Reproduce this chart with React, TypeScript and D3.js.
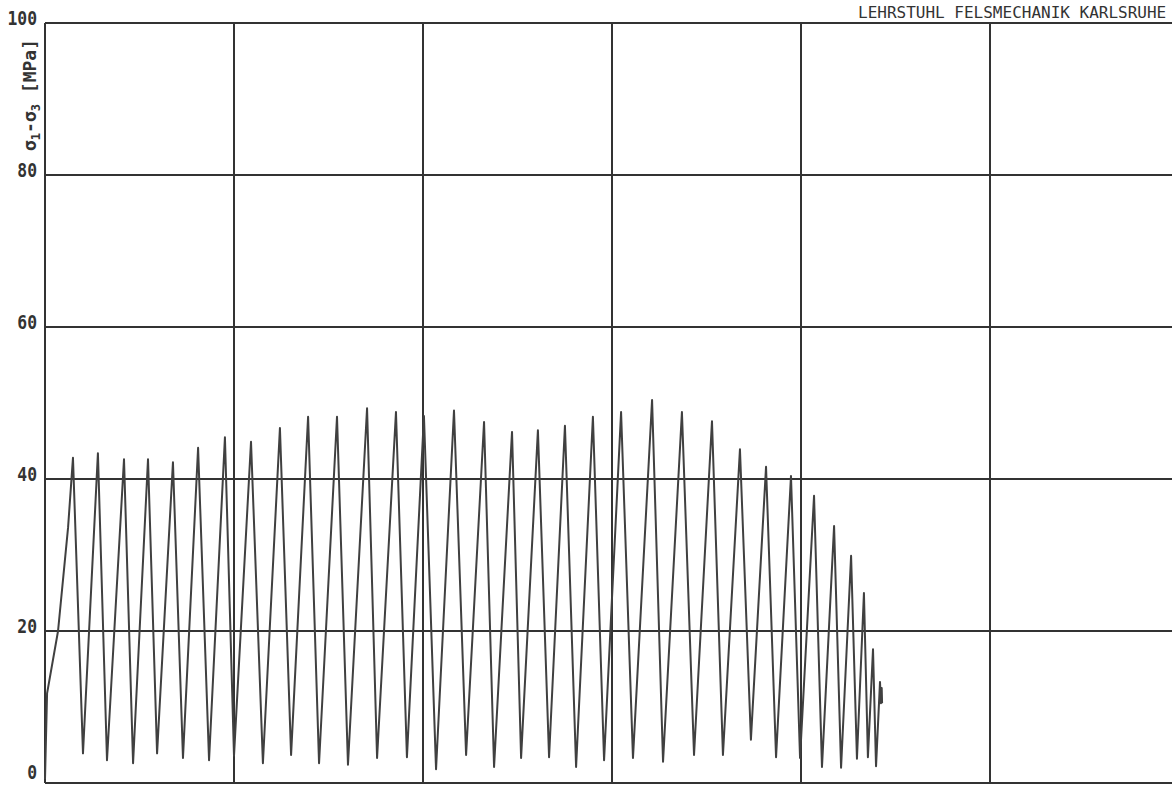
import React from 'react';
import * as d3 from 'd3';

// time axis (grid units, 10 per division) and deviatoric stress σ1-σ3 [MPa]
const timeValues = [
  0.0, 0.11, 0.69, 1.22, 1.48, 2.01, 2.8, 3.28, 4.18, 4.66, 5.45, 5.93, 6.77, 7.3,
  8.1, 8.68, 9.52, 10.0, 10.9, 11.53, 12.43, 13.02, 13.92, 14.5, 15.45, 16.03,
  17.04, 17.57, 18.57, 19.15, 20.05, 20.69, 21.64, 22.28, 23.23, 23.76, 24.71,
  25.19, 26.08, 26.67, 27.51, 28.1, 28.99, 29.58, 30.48, 31.11, 32.12, 32.7,
  33.7, 34.34, 35.29, 35.87, 36.77, 37.35, 38.15, 38.68, 39.47, 39.95, 40.69,
  41.11, 41.75, 42.12, 42.65, 42.96, 43.33, 43.54, 43.81, 43.97, 44.18, 44.23,
  44.27, 44.29,
];
const stressValues = [
  0.5, 11.8, 20.0, 33.6, 42.8, 3.9, 43.4, 3.0, 42.6, 2.6, 42.6, 3.9, 42.2, 3.3,
  44.1, 3.0, 45.5, 3.6, 44.9, 2.6, 46.7, 3.7, 48.2, 2.6, 48.2, 2.4,
  49.3, 3.3, 48.8, 3.4, 48.3, 1.8, 49.0, 3.7, 47.5, 2.1, 46.2,
  3.3, 46.4, 3.4, 47.0, 2.1, 48.2, 3.0, 48.8, 3.3, 50.4, 2.8,
  48.8, 3.7, 47.6, 3.7, 43.9, 5.7, 41.6, 3.4, 40.4, 3.3, 37.8,
  2.1, 33.8, 2.0, 29.9, 3.2, 25.0, 3.4, 17.6, 2.2, 13.3, 10.5,
  12.5, 10.5,
];
const yTicks = [0, 20, 40, 60, 80, 100];
const xGrid = [10, 20, 30, 40, 50];
const title = 'LEHRSTUHL FELSMECHANIK KARLSRUHE';

const W = 1172;
const H = 785;
const ink = '#333';
const plotFont = '"DejaVu Sans Mono", "Liberation Mono", monospace';

export default function App() {
  const x = d3.scaleLinear().domain([0, 60]).range([45, 1179]);
  const y = d3.scaleLinear().domain([0, 100]).range([783, 23]);

  const pts: [number, number][] = timeValues.map((t, i) => [t, stressValues[i]]);
  const line = d3.line<[number, number]>()
    .x(d => x(d[0]))
    .y(d => y(d[1]));

  return (
    <svg
      width={W}
      height={H}
      style={{ position: 'absolute', left: 0, top: 0, background: '#fff' }}
    >
      {/* grid */}
      <g stroke={ink} strokeWidth={2} fill="none">
        {yTicks.map(v => (
          <line key={'h' + v} x1={x(0)} x2={W} y1={y(v)} y2={y(v)} />
        ))}
        <line x1={x(0)} x2={x(0)} y1={y(0)} y2={y(100)} />
        {xGrid.map(v => (
          <line key={'v' + v} x1={x(v)} x2={x(v)} y1={y(0)} y2={y(100)} />
        ))}
      </g>

      {/* tick labels, narrow plotter digits */}
      <g fontFamily={plotFont} fontSize={20} fontWeight="bold" fill={ink} textAnchor="end">
        {yTicks.map(v => (
          <text
            key={'t' + v}
            transform={`translate(37,${Math.min(y(v) + 2, 779)}) scale(0.82,1)`}
          >
            {v}
          </text>
        ))}
      </g>

      {/* axis label */}
      <text
        transform="translate(36,95) rotate(-90)"
        textAnchor="middle"
        fontFamily={plotFont}
        fontSize={18}
        fontWeight="bold"
        fill={ink}
      >
        σ<tspan fontSize={12} dy={4}>1</tspan>
        <tspan dy={-4}>-σ</tspan>
        <tspan fontSize={12} dy={4}>3</tspan>
        <tspan dy={-4}> [MPa]</tspan>
      </text>

      {/* title */}
      <text x={858} y={18} fontFamily={plotFont} fontSize={16} fill={ink}>
        {title}
      </text>

      {/* data */}
      <path
        d={line(pts) ?? ''}
        fill="none"
        stroke="#404040"
        strokeWidth={2}
        strokeLinejoin="round"
      />
    </svg>
  );
}
